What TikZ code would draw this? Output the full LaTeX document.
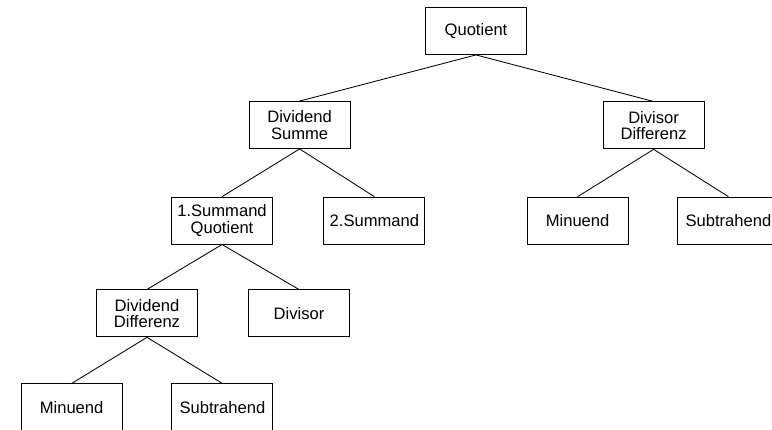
\documentclass[tikz,border=0pt]{standalone}
\usepackage{fontspec}
\setmainfont{Liberation Sans}
\usepackage{tikz}
\usetikzlibrary{positioning}

\begin{document}
\begin{tikzpicture}
            [term/.style={rectangle, draw=black, line width=0.6pt,
                inner sep=0pt, minimum width=2.525cm, minimum height=1.175cm,
                align=center, font=\fontsize{11.8pt}{11.8pt}\selectfont},
              edge/.style={line width=0.6pt}]
            \useasboundingbox (0, 0) rectangle (19.3, 10.725);
            % oberste Ebene
            \node[term] (quot) at (11.9, 9.95) {Quotient};
            \node[term] (dvdsum) at (7.49, 7.6) {Dividend\\Summe};
            \node[term] (dvsdiff) at (16.34, 7.59) {Divisor\\Differenz};
            \node[term] (sumA) at (5.55, 5.21) {1.Summand\\Quotient};
            \node[term] (sumB) at (9.36, 5.21) {2.Summand};
            \node[term] (minR) at (14.44, 5.21) {Minuend};
            \node[term] (subR) at (18.21, 5.21) {Subtrahend};
            \node[term] (dvddiff) at (3.675, 2.89) {Dividend\\Differenz};
            \node[term] (dvs) at (7.475, 2.89) {Divisor};
            \node[term] (minL) at (1.79, 0.54) {Minuend};
            \node[term] (subL) at (5.56, 0.54) {Subtrahend};
            \draw[edge] (quot.south) -- (dvdsum.north);
            \draw[edge] (quot.south) -- (dvsdiff.north);
            \draw[edge] (dvdsum.south) -- (sumA.north);
            \draw[edge] (dvdsum.south) -- (sumB.north);
            \draw[edge] (dvsdiff.south) -- (minR.north);
            \draw[edge] (dvsdiff.south) -- (subR.north);
            \draw[edge] (sumA.south) -- (dvddiff.north);
            \draw[edge] (sumA.south) -- (dvs.north);
            \draw[edge] (dvddiff.south) -- (minL.north);
            \draw[edge] (dvddiff.south) -- (subL.north);
        \end{tikzpicture}
\end{document}
